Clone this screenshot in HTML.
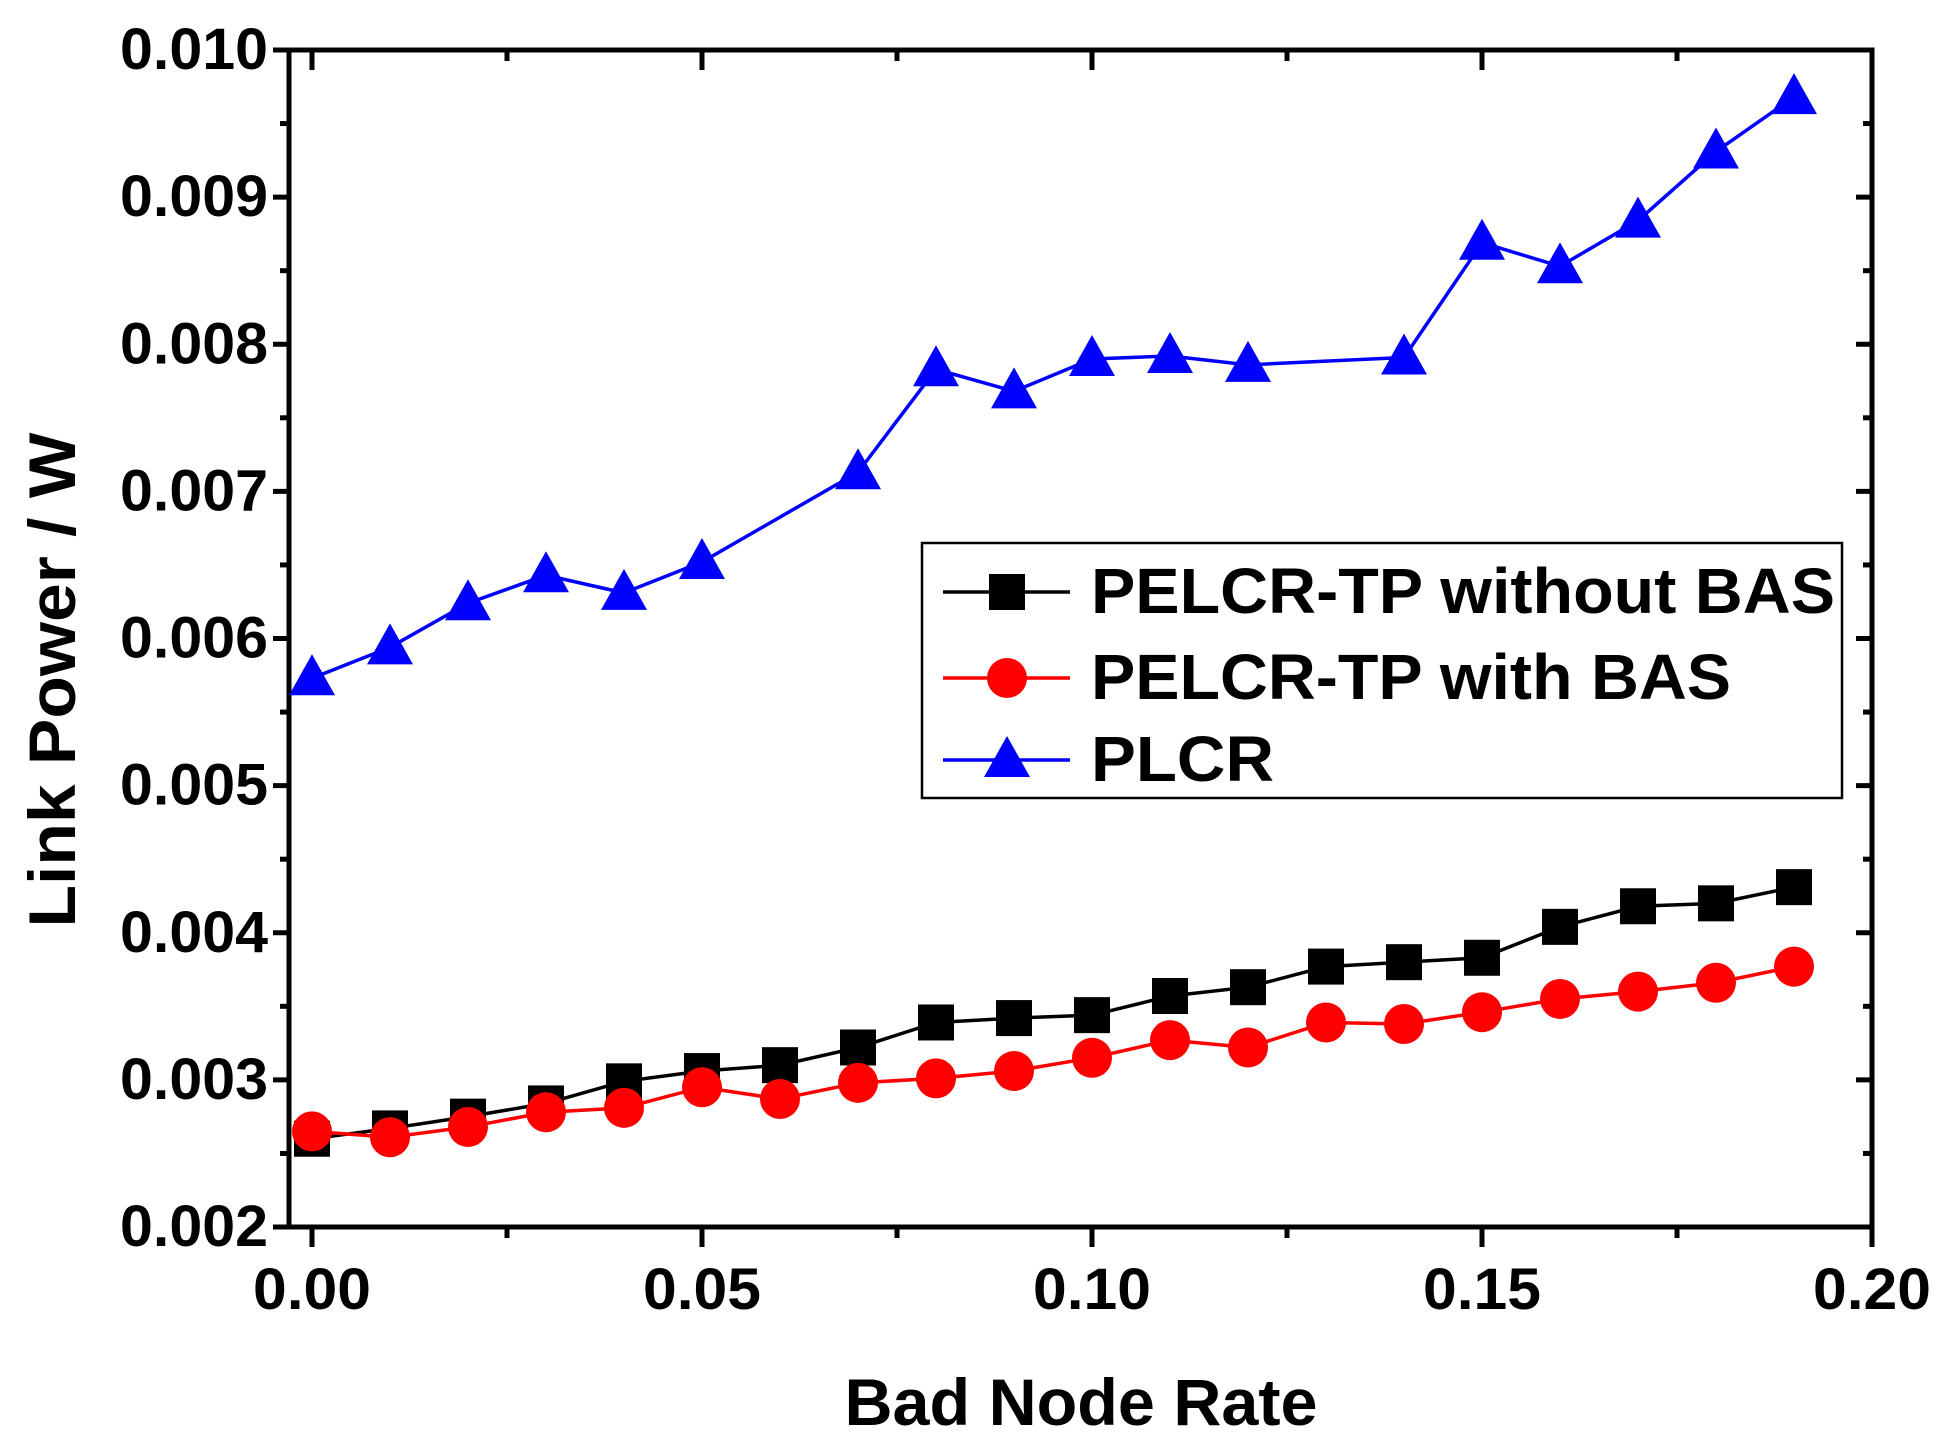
<!DOCTYPE html>
<html><head><meta charset="utf-8"><style>html,body{margin:0;padding:0;background:#fff}svg{display:block}text{font-family:"Liberation Sans",Arial,sans-serif;font-weight:bold;fill:#000}</style></head>
<body>
<svg id="chart" width="1946" height="1446" viewBox="0 0 1946 1446" xmlns="http://www.w3.org/2000/svg"></svg>
<script>
const xCats = [0,0.01,0.02,0.03,0.04,0.05,0.06,0.07,0.08,0.09,0.10,0.11,0.12,0.13,0.14,0.15,0.16,0.17,0.18,0.19];
const blackVals = [0.0026,0.00267,0.00275,0.00284,0.00299,0.00306,0.0031,0.00322,0.00339,0.00342,0.00344,0.00357,0.00363,0.00377,0.0038,0.00383,0.00404,0.00418,0.0042,0.00431];
const redVals = [0.00265,0.00261,0.00268,0.00278,0.00281,0.00295,0.00287,0.00298,0.00301,0.00306,0.00315,0.00327,0.00322,0.00339,0.00338,0.00346,0.00355,0.0036,0.00366,0.00377];
const plcrX = [0,0.01,0.02,0.03,0.04,0.05,0.07,0.08,0.09,0.10,0.11,0.12,0.14,0.15,0.16,0.17,0.18,0.19];
const plcrVals = [0.00573,0.00594,0.00624,0.00643,0.00631,0.00652,0.00713,0.00783,0.00768,0.0079,0.00792,0.00786,0.00791,0.00869,0.00853,0.00884,0.00931,0.00968];
const yTickLabels = ["0.002","0.003","0.004","0.005","0.006","0.007","0.008","0.009","0.010"];
const xTickLabels = ["0.00","0.05","0.10","0.15","0.20"];

const svg = document.getElementById('chart');
const NS = 'http://www.w3.org/2000/svg';
const L=289, R=1872, T=50, B=1227;
const X = v => 312 + v/0.2*1560;
const Y = v => B - (v-0.002)/0.008*(B-T);
function mk(tag, attrs, parent){const e=document.createElementNS(NS,tag);for(const k in attrs)e.setAttribute(k,attrs[k]);(parent||svg).appendChild(e);return e;}

const frame = mk('rect',{x:L,y:T,width:R-L,height:B-T,fill:'none',stroke:'#000','stroke-width':5});



yTickLabels.forEach((lab,i)=>{
  const v = parseFloat(lab), y = Y(v);
  mk('line',{x1:L-16,x2:L,y1:y,y2:y,stroke:'#000','stroke-width':5});
  mk('line',{x1:R,x2:R-16,y1:y,y2:y,stroke:'#000','stroke-width':5});
  if(i<yTickLabels.length-1){const ym=Y(v+0.0005);
    mk('line',{x1:L-9,x2:L,y1:ym,y2:ym,stroke:'#000','stroke-width':5});
    mk('line',{x1:R,x2:R-9,y1:ym,y2:ym,stroke:'#000','stroke-width':5});}
  const t = mk('text',{x:268,y:y+19,'text-anchor':'end','font-size':58,textLength:148,lengthAdjust:'spacingAndGlyphs'});
  t.textContent = lab;
  
  
});
xTickLabels.forEach((lab,i)=>{
  const v = parseFloat(lab), x = X(v);
  mk('line',{x1:x,x2:x,y1:B,y2:B+20,stroke:'#000','stroke-width':5});
  mk('line',{x1:x,x2:x,y1:T,y2:T+20,stroke:'#000','stroke-width':5});
  if(i<xTickLabels.length-1){const xm=X(v+0.025);
    mk('line',{x1:xm,x2:xm,y1:B,y2:B+11,stroke:'#000','stroke-width':5});
    mk('line',{x1:xm,x2:xm,y1:T,y2:T+11,stroke:'#000','stroke-width':5});}
  const t = mk('text',{x:x,y:1309,'text-anchor':'middle','font-size':58,textLength:118,lengthAdjust:'spacingAndGlyphs'});
  t.textContent = lab;
  
  
});

const xt = mk('text',{x:1081,y:1425,'text-anchor':'middle','font-size':66,textLength:473,lengthAdjust:'spacingAndGlyphs'});
xt.textContent='Bad Node Rate';


const yt = mk('text',{x:0,y:0,'text-anchor':'middle','font-size':66,textLength:495,lengthAdjust:'spacingAndGlyphs',transform:'translate(75,680) rotate(-90)'});
yt.textContent='Link Power / W';



function marker(type,x,y,color,name){
  let m;
  if(type==='sq') m=mk('rect',{x:x-18,y:y-18,width:36,height:36,fill:color});
  else if(type==='ci') m=mk('circle',{cx:x,cy:y,r:20,fill:color});
  else m=mk('polygon',{points:`${x},${y-24} ${x+23},${y+17} ${x-23},${y+17}`,fill:color});
  
  
}
function series(xs,vals,color,type,name){
  const pl = mk('polyline',{points:xs.map((x,i)=>X(x)+','+Y(vals[i])).join(' '),fill:'none',stroke:color,'stroke-width':3.5});
  
  
  xs.forEach((x,i)=>marker(type,X(x),Y(vals[i]),color,name+'-point'));
}
series(plcrX,plcrVals,'#0000ff','tr','plcr');
series(xCats,blackVals,'#000','sq','without-bas');
series(xCats,redVals,'#ff0000','ci','with-bas');

const lg = mk('g',{});


mk('rect',{x:922,y:543,width:920,height:255,fill:'#fff',stroke:'#000','stroke-width':2.5},lg);
const entries=[['PELCR-TP without BAS','#000','sq',592,'legend-entry-without-bas',744],['PELCR-TP with BAS','#ff0000','ci',678,'legend-entry-with-bas',640],['PLCR','#0000ff','tr',760,'legend-entry-plcr',183]];
entries.forEach(e=>{
  const g=mk('g',{},lg);
  
  
  mk('line',{x1:943,x2:1070,y1:e[3],y2:e[3],stroke:e[1],'stroke-width':3.5},g);
  const cx=1007,cy=e[3];
  if(e[2]==='sq') mk('rect',{x:cx-18,y:cy-18,width:36,height:36,fill:e[1]},g);
  else if(e[2]==='ci') mk('circle',{cx:cx,cy:cy,r:20,fill:e[1]},g);
  else mk('polygon',{points:`${cx},${cy-24} ${cx+23},${cy+17} ${cx-23},${cy+17}`,fill:e[1]},g);
  const t=mk('text',{x:1091,y:e[3]+21,'font-size':64,textLength:e[5],lengthAdjust:'spacingAndGlyphs'},g);
  t.textContent=e[0];
});
</script>
</body></html>
